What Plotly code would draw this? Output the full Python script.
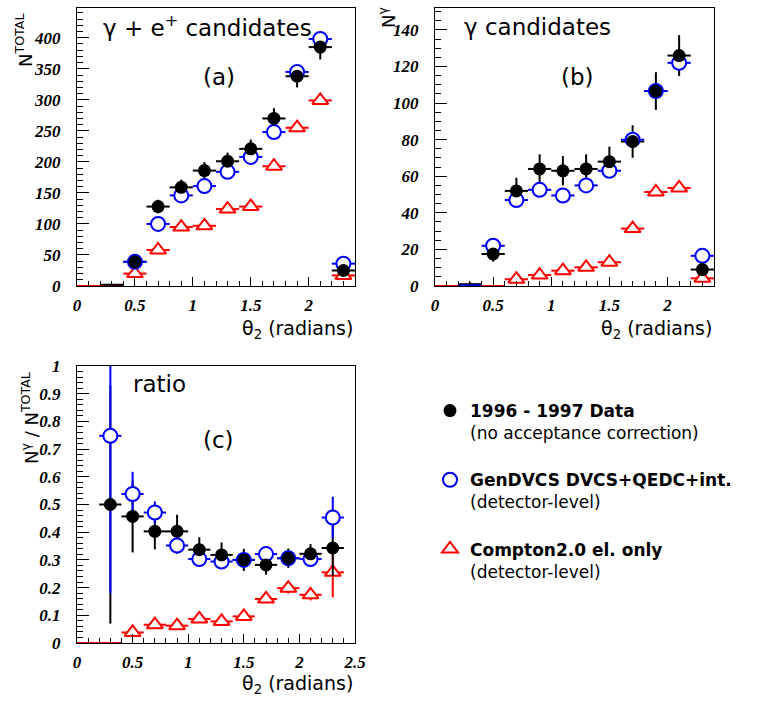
import plotly.graph_objects as go

W, H = 765, 702

# ---------------- data ----------------
theta_bins = [0.1, 0.3, 0.5, 0.7, 0.9, 1.1, 1.3, 1.5, 1.7, 1.9, 2.1, 2.3]
bin_half_width = [0.1] * 12

# (a) gamma + e+ candidates
a_data = [None, 2, 39, 128, 159, 186, 201, 221, 270, 338, 385, 25]
a_data_err = [0, 1.4, 6, 11, 12.5, 13.6, 14, 15, 16.5, 18, 20, 5]
a_gen = [None, None, 39, 100, 146, 161, 184, 208, 248, 345, 398, 36]
a_gen_err = [0, 0, 2, 3, 4, 4, 4, 5, 5, 6, 6, 2]
a_comp = [0, 0, 20, 58, 95, 97, 124, 128, 193, 255, 299, 17]
a_comp_err = [0, 0, 2, 3, 4, 4, 4, 4, 5, 6, 6, 2]

# (b) gamma candidates
b_data = [None, 1, 17.5, 52, 64, 63, 64, 68, 79, 106.6, 126, 9]
b_data_err = [0, 1.2, 4.2, 7.2, 8, 8, 8, 8.2, 8.9, 10.3, 11.2, 3]
b_gen = [None, 0.3, 22, 47, 52.6, 49.5, 55, 63, 80, 106.6, 122, 16.5]
b_gen_err = [0, 0, 1.5, 2, 2, 2, 2, 2.5, 3, 3, 3.5, 1.5]
b_comp = [0, 0, 0, 3.7, 6, 8.4, 10.2, 13, 31.4, 51.4, 53.6, 4.2]
b_comp_err = [0, 0, 0, 0.5, 1, 1, 1, 1, 1.5, 2, 2, 1]

# (c) ratio
c_data = [None, 0.5, 0.457, 0.403, 0.403, 0.337, 0.318, 0.30, 0.282, 0.306, 0.322, 0.343]
c_data_err = [0, 0.43, 0.13, 0.065, 0.06, 0.045, 0.045, 0.04, 0.035, 0.035, 0.035, 0.10]
c_gen = [None, 0.748, 0.538, 0.471, 0.352, 0.303, 0.294, 0.30, 0.321, 0.306, 0.303, 0.453]
c_gen_err = [0, 0.57, 0.08, 0.04, 0.03, 0.025, 0.02, 0.02, 0.02, 0.02, 0.02, 0.075]
c_comp = [0, 0, 0.038, 0.066, 0.0625, 0.087, 0.078, 0.096, 0.159, 0.198, 0.174, 0.255]
c_comp_err = [0, 0, 0.01, 0.01, 0.01, 0.012, 0.012, 0.012, 0.015, 0.02, 0.02, 0.09]

legend_labels = [
    "<b>1996 - 1997 Data</b><br>(no acceptance correction)",
    "<b>GenDVCS DVCS+QEDC+int.</b><br>(detector-level)",
    "<b>Compton2.0 el. only</b><br>(detector-level)",
]

# ---------------- style ----------------
BLACK, BLUE, RED = "#000000", "#0000ff", "#ff0000"
SANS = "DejaVu Sans"
TICKFONT = dict(family="Liberation Serif", size=17, color="black", weight="bold", style="italic")


def px(x):
    return x / W


def py(y):
    return 1 - y / H


fig = go.Figure()

styles = {
    "comp": dict(color=RED, symbol="triangle-up", size=14, fill="white", lw=2),
    "gen": dict(color=BLUE, symbol="circle", size=14, fill="white", lw=2),
    "data": dict(color=BLACK, symbol="circle", size=13, fill=BLACK, lw=0),
}


def add_series(xa, ya, y, yerr, kind, ymax, show_markers=True, show_errors=True):
    st = styles[kind]
    # markers for bins with negligible content are not drawn
    op = [0 if (not show_markers or v is None or v < 0.01 * ymax) else 1 for v in y]
    fig.add_trace(go.Scatter(
        x=theta_bins, y=y, mode="markers", xaxis=xa, yaxis=ya, showlegend=False,
        cliponaxis=(kind != "comp"),
        marker=dict(symbol=st["symbol"], size=st["size"], color=st["fill"], opacity=op,
                    line=dict(color=st["color"], width=st["lw"])),
        error_x=dict(type="data", array=bin_half_width, color=st["color"], thickness=2,
                     width=0, visible=show_errors),
        error_y=dict(type="data", array=yerr, color=st["color"], thickness=2,
                     width=0, visible=show_errors),
        hoverinfo="skip",
    ))


panels = [
    ("x", "y", a_data, a_data_err, a_gen, a_gen_err, a_comp, a_comp_err, 448),
    ("x2", "y2", b_data, b_data_err, b_gen, b_gen_err, b_comp, b_comp_err, 152),
    ("x3", "y3", c_data, c_data_err, c_gen, c_gen_err, c_comp, c_comp_err, 1),
]
for xa, ya, d, de, g, ge, c, ce, ymax in panels:
    add_series(xa, ya, c, ce, "comp", ymax)
    add_series(xa, ya, d, de, "data", ymax, show_markers=False)   # data error bars
    add_series(xa, ya, g, ge, "gen", ymax)
    add_series(xa, ya, d, de, "data", ymax, show_errors=False)    # data markers on top

# legend-only entries
for kind, label in zip(["data", "gen", "comp"], legend_labels):
    st = styles[kind]
    fig.add_trace(go.Scatter(
        x=[None], y=[None], mode="markers", xaxis="x3", yaxis="y3", name=label,
        legendgroup=kind,
        marker=dict(symbol=st["symbol"], size=st["size"], color=st["fill"],
                    line=dict(color=st["color"], width=st["lw"])),
    ))


def xaxis_cfg(dom, rng, anchor):
    return dict(domain=dom, range=rng, anchor=anchor, showline=True, mirror=True,
                linecolor="black", linewidth=1, showgrid=False, zeroline=False,
                automargin=False,
                ticks="inside", ticklen=9, tickwidth=1, tickcolor="black", dtick=0.5, tick0=0,
                minor=dict(ticks="inside", dtick=0.1, ticklen=5, tickcolor="black", showgrid=False),
                tickfont=TICKFONT, ticklabelstandoff=4, fixedrange=True)


def yaxis_cfg(dom, rng, anchor, dt, mdt):
    return dict(domain=dom, range=rng, anchor=anchor, showline=True, mirror=True,
                linecolor="black", linewidth=1, showgrid=False, zeroline=False,
                automargin=False,
                ticks="inside", ticklen=12, tickwidth=1, tickcolor="black", dtick=dt, tick0=0,
                minor=dict(ticks="inside", dtick=mdt, ticklen=6, tickcolor="black", showgrid=False),
                tickfont=TICKFONT, ticklabelstandoff=12, fixedrange=True)


top_dom = [py(286), py(8)]
bot_dom = [py(643), py(366)]
left_dom = [px(77), px(355)]
right_dom = [px(435), px(714)]

fig.update_layout(
    width=W, height=H,
    margin=dict(l=0, r=0, t=0, b=0, autoexpand=False),
    paper_bgcolor="white", plot_bgcolor="white",
    xaxis=xaxis_cfg(left_dom, [0, 2.4], "y"),
    yaxis=yaxis_cfg(top_dom, [0, 448], "x", 50, 10),
    xaxis2=xaxis_cfg(right_dom, [0, 2.4], "y2"),
    yaxis2=yaxis_cfg(top_dom, [0, 152], "x2", 20, 5),
    xaxis3=xaxis_cfg(left_dom, [0, 2.5], "y3"),
    yaxis3=yaxis_cfg(bot_dom, [0, 1], "x3", 0.1, 0.02),
    showlegend=True,
    legend=dict(x=px(430), y=py(393), xanchor="left", yanchor="top",
                font=dict(family=SANS, size=17, color="black"),
                bgcolor="rgba(0,0,0,0)", borderwidth=0, valign="top",
                tracegroupgap=22, itemwidth=30),
)

ann = []


def text(x, y, s, size, xanchor="center", angle=0):
    ann.append(dict(x=px(x), y=py(y), xref="paper", yref="paper", text=s, showarrow=False,
                    xanchor=xanchor, yanchor="middle", textangle=angle,
                    font=dict(family=SANS, size=size, color="black")))


text(208, 26, "γ + e<sup>+</sup> candidates", 23)
text(219, 77, "(a)", 23)
text(537, 27, "γ candidates", 23)
text(577, 77, "(b)", 23)
text(159, 384, "ratio", 23)
text(218, 440, "(c)", 23)

text(355, 329, "θ<sub>2</sub> (radians)", 19, xanchor="right")
text(714, 329, "θ<sub>2</sub> (radians)", 19, xanchor="right")
text(355, 684, "θ<sub>2</sub> (radians)", 19, xanchor="right")

text(24, 41, "N<sup>TOTAL</sup>", 18, angle=-90)
text(387, 18, "N<sup>γ</sup>", 18, angle=-90)
text(30, 418, "N<sup>γ</sup> / N<sup>TOTAL</sup>", 18, angle=-90)

fig.update_layout(annotations=ann)

fig.write_html("out.html", config={"displayModeBar": False},
               post_script="document.body.style.margin='0px';")
